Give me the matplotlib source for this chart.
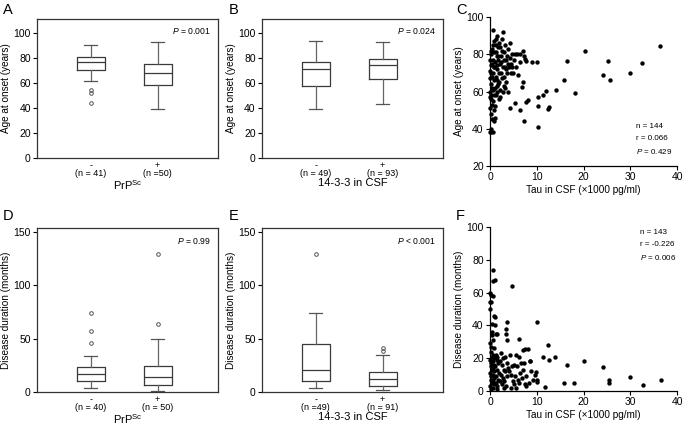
import matplotlib
matplotlib.use("Agg")
import matplotlib.pyplot as plt

plt.rcParams['font.family'] = ['Liberation Sans', 'DejaVu Sans']
plt.rcParams['mathtext.fontset'] = 'custom'
plt.rcParams['mathtext.rm'] = 'Liberation Sans'
plt.rcParams['mathtext.it'] = 'Liberation Sans:italic'

# ---- box plot summaries ----
# each: whislo, q1, med, q3, whishi, fliers
age_prp = [
    dict(whislo=61.5, q1=70.5, med=77.0, q3=80.5, whishi=90.0, fliers=[54.7, 51.7, 44.0]),
    dict(whislo=39.5, q1=58.0, med=67.7, q3=74.7, whishi=93.0, fliers=[]),
]
age_prp_ticks = ["-\n(n = 41)", "+\n(n =50)"]

age_1433 = [
    dict(whislo=38.8, q1=57.2, med=71.0, q3=76.3, whishi=93.6, fliers=[]),
    dict(whislo=43.4, q1=63.3, med=73.9, q3=79.0, whishi=92.6, fliers=[]),
]
age_1433_ticks = ["-\n(n = 49)", "+\n(n = 93)"]

dur_prp = [
    dict(whislo=4.0, q1=10.0, med=16.7, q3=23.3, whishi=33.6, fliers=[73.6, 57.2, 46.2]),
    dict(whislo=1.3, q1=6.3, med=14.2, q3=24.2, whishi=49.7, fliers=[129.0, 63.8]),
]
dur_prp_ticks = ["-\n(n = 40)", "+\n(n = 50)"]

dur_1433 = [
    dict(whislo=3.8, q1=10.7, med=20.4, q3=45.0, whishi=73.6, fliers=[129.0]),
    dict(whislo=1.9, q1=5.7, med=12.0, q3=18.9, whishi=35.0, fliers=[41.0, 38.0]),
]
dur_1433_ticks = ["-\n(n =49)", "+\n(n = 91)"]

# ---- scatter C: tau vs age at onset ----
tau_c = [36.4, 20.3, 16.5, 25.3, 32.6, 29.9, 24.2, 25.7, 15.9, 14.1, 12.0, 11.3, 18.2, 12.6, 12.4,
         10.3, 10.2, 10.3, 7.3, 6.4, 4.3, 5.3, 7.8, 8.2, 7.0, 6.8, 7.0, 7.2, 7.5, 7.8, 8.9, 10.0, 6.5,
         0.1, 0.3, 0.2, 0.1, 0.4, 0.2, 0.0, 0.3, 0.1, 0.4, 0.2, 0.0, 0.3, 0.1, 0.2, 0.4, 0.1, 0.3, 0.2, 0.5,
         0.6, 0.8, 0.7, 0.9, 0.6, 0.8, 0.7, 0.9, 0.6, 0.8, 0.7, 0.9, 1.0, 0.8, 0.6,
         1.5, 1.2, 1.7, 1.3, 1.8, 1.1, 1.6, 1.4, 1.9, 1.2, 1.5, 1.8, 1.1, 1.6, 1.3, 1.9,
         2.8, 2.2, 2.6, 2.4, 2.9, 2.1, 2.7, 2.3, 2.5, 2.9, 2.2, 2.7,
         3.3, 3.8, 3.1, 3.6, 3.4, 3.9, 3.2, 3.7, 3.5, 3.3, 3.8,
         4.2, 4.6, 4.3, 4.8, 4.4, 5.4, 5.8, 5.2, 5.6, 5.0,
         1.0, 2.0, 0.4, 1.4, 2.4, 3.0, 4.0, 0.9, 1.7, 2.0,
         0.5, 1.2, 2.5, 3.5, 4.5, 6.0, 6.5, 0.3, 1.5, 2.2]
age_c = [84.6, 81.5, 76.5, 76.5, 75.4, 70.2, 69.1, 66.3, 66.3, 61.0, 60.2, 58.2, 59.3, 51.9, 50.8,
         56.8, 52.0, 40.8, 43.9, 49.8, 51.0, 54.0, 54.6, 55.5, 65.0, 62.3, 81.5, 78.8, 77.5, 76.2, 75.6, 75.6, 76.0,
         38, 38, 40, 51, 53, 56, 57, 58, 60, 62, 64, 67, 70, 71, 74, 75, 77, 80, 82, 68,
         93, 87, 85, 81, 77, 73, 70, 66, 61, 58, 55, 50, 46, 44, 38,
         90, 88, 84, 81, 79, 76, 74, 72, 70, 68, 66, 64, 62, 60, 58, 56,
         92, 84, 82, 79, 77, 75, 73, 70, 67, 63, 61, 60,
         85, 83, 81, 79, 77, 75, 73, 70, 65, 62, 60,
         86, 80, 78, 73, 70, 80, 80, 77, 73, 70,
         52, 86, 45, 79, 76, 68, 73, 73, 77, 65,
         83, 85, 88, 72, 75, 69, 80, 48, 63, 57]

# ---- scatter F: tau vs disease duration ----
tau_f = [36.5, 32.7, 29.9, 25.5, 25.5, 24.2, 20.2, 18.0, 16.4, 15.8, 14.0, 12.7, 12.3, 11.3, 11.8,
         10.0, 9.9, 10.1, 10.1, 0.7, 1.1, 0.6, 4.8, 0.0, 0.2, 0.6, 0.1, 0.1, 0.9, 0.4, 1.1, 3.7, 3.4,
         3.4, 3.7, 0.4, 0.5, 0.7, 1.6, 6.1, 7.0, 7.5, 8.1, 8.6, 5.5, 1.0, 0.3,
         0.1, 0.3, 0.2, 0.4, 0.1, 0.3, 0.2, 0.4, 0.1, 0.3, 0.2, 0.4, 0.1, 0.3,
         0.6, 0.8, 0.7, 0.9, 0.6, 0.8, 0.7, 0.9, 0.6, 0.8, 0.7, 0.9,
         1.2, 1.6, 1.4, 1.8, 1.1, 1.5, 1.9, 1.3, 1.7, 1.2, 1.6, 1.4, 1.3,
         2.4, 2.8, 2.2, 2.6, 2.9, 2.3, 2.7, 2.1, 2.5, 2.9,
         3.2, 3.6, 3.9, 3.3, 3.7, 3.1, 3.5,
         4.3, 4.7, 4.1, 4.5, 4.9, 4.4,
         5.2, 5.7, 5.4, 5.9, 5.1, 5.6,
         6.2, 6.7, 6.4, 6.9, 6.3,
         7.2, 7.6, 7.4, 7.8, 7.1,
         8.5, 8.8, 9.2, 8.3, 9.6]
dur_f = [6.5, 3.7, 8.5, 7.0, 4.9, 14.6, 18.1, 4.7, 16.1, 4.7, 20.7, 18.7, 28.3, 20.7, 2.3,
         42.0, 11.5, 7.0, 5.5, 74.0, 67.5, 67.0, 64.2, 59.8, 58.3, 57.7, 54.3, 50.2, 46.0, 40.7, 40.0, 42.0, 38.0,
         35.0, 31.0, 36.0, 34.0, 31.0, 35.0, 32.0, 24.8, 25.8, 25.8, 18.1, 22.0, 45.0, 54.5,
         29, 27, 24, 21, 19, 17, 15, 13, 11, 9, 7, 5, 3, 1,
         22, 20, 18, 16, 14, 12, 10, 8, 6, 4, 2, 26,
         22, 21, 19, 17, 15, 13, 11, 9, 7, 5, 3, 1, 35,
         23, 20, 18, 16, 13, 10, 8, 6, 4, 2,
         21, 17, 14, 12, 9, 6, 3,
         22, 15, 12, 10, 6, 2,
         16, 15, 9, 7, 4, 2,
         21, 17, 11, 8, 5,
         17, 9, 4, 3, 13,
         18, 12, 7, 5, 10]

W, H = 686, 429
fig = plt.figure(figsize=(W / 100, H / 100), dpi=100)


def ax_px(left, top, right, bottom):
    return fig.add_axes([left / W, 1 - bottom / H, (right - left) / W, (bottom - top) / H])


def box_panel(ax, stats, ticks, xlabel, ylabel, ymax, yticks, ptext):
    ax.bxp(stats, positions=[1, 2], widths=0.42, capwidths=0.2,
           boxprops=dict(color="#3a3a3a", lw=0.9),
           whiskerprops=dict(color="#666666", lw=0.9),
           capprops=dict(color="#555555", lw=0.9),
           medianprops=dict(color="#3a3a3a", lw=0.9),
           flierprops=dict(marker="o", markersize=2.6, markerfacecolor="none",
                           markeredgecolor="#555555", markeredgewidth=0.7))
    ax.set_xlim(0.2, 2.9)
    ax.set_ylim(0, ymax)
    ax.set_yticks(yticks)
    ax.set_xticks([1, 2])
    ax.set_xticklabels(ticks, fontsize=6.5, linespacing=0.95)
    ax.tick_params(axis="x", length=0, pad=2)
    ax.tick_params(axis="y", labelsize=7.5, length=3, width=0.8, pad=1.5)
    ax.set_xlabel(xlabel, fontsize=8, labelpad=0)
    ax.set_ylabel(ylabel, fontsize=7.2, labelpad=2)
    for sp in ax.spines.values():
        sp.set_color("#333333")
        sp.set_linewidth(0.9)
    ax.text(0.96, 0.95, ptext, transform=ax.transAxes, ha="right", va="top", fontsize=6.2)


def scatter_panel(ax, x, y, ylim, yticks, ylabel, lines, loc):
    ax.scatter(x, y, s=10, color="black", linewidths=0, clip_on=False, zorder=3)
    ax.set_xlim(0, 40)
    ax.set_ylim(*ylim)
    ax.set_xticks([0, 10, 20, 30, 40])
    ax.set_yticks(yticks)
    ax.spines["top"].set_visible(False)
    ax.spines["right"].set_visible(False)
    for sp in ("left", "bottom"):
        ax.spines[sp].set_linewidth(0.9)
    ax.tick_params(labelsize=7.5, length=3, width=0.8, pad=1.5)
    ax.set_xlabel("Tau in CSF (\u00d71000 pg/ml)", fontsize=7.2, labelpad=2)
    ax.set_ylabel(ylabel, fontsize=7.2, labelpad=2)
    x0, y0, dy = loc
    for i, t in enumerate(lines):
        ax.text(x0, y0 - i * dy, t, transform=ax.transAxes, fontsize=5.8, va="top")


axA = ax_px(37, 19, 218, 158)
box_panel(axA, age_prp, age_prp_ticks, "PrP$^{\\mathrm{Sc}}$", "Age at onset (years)",
          111, [0, 20, 40, 60, 80, 100], "$\\it{P}$ = 0.001")
axB = ax_px(262, 19, 443, 158)
box_panel(axB, age_1433, age_1433_ticks, "14-3-3 in CSF", "Age at onset (years)",
          111, [0, 20, 40, 60, 80, 100], "$\\it{P}$ = 0.024")
axD = ax_px(37, 228, 218, 392)
box_panel(axD, dur_prp, dur_prp_ticks, "PrP$^{\\mathrm{Sc}}$", "Disease duration (months)",
          153.5, [0, 50, 100, 150], "$\\it{P}$ = 0.99")
axE = ax_px(262, 228, 443, 392)
box_panel(axE, dur_1433, dur_1433_ticks, "14-3-3 in CSF", "Disease duration (months)",
          153.5, [0, 50, 100, 150], "$\\it{P}$ < 0.001")

axC = ax_px(490, 17, 677, 166)
scatter_panel(axC, tau_c, age_c, (20, 100), [20, 40, 60, 80, 100], "Age at onset (years)",
              ["n = 144", "r = 0.066", "$\\it{P}$ = 0.429"], (0.78, 0.29, 0.08))
axF = ax_px(490, 227, 677, 391)
scatter_panel(axF, tau_f, dur_f, (0, 100), [0, 20, 40, 60, 80, 100], "Disease duration (months)",
              ["n = 143", "r = -0.226", "$\\it{P}$ = 0.006"], (0.80, 0.99, 0.073))

for lab, (px, py) in zip("ABCDEF", [(3, 10), (229, 10), (456, 10), (3, 216), (229, 216), (456, 216)]):
    fig.text(px / W, 1 - py / H, lab, fontsize=10.5, va="center", ha="left")

fig.savefig("out.png", dpi=100)
